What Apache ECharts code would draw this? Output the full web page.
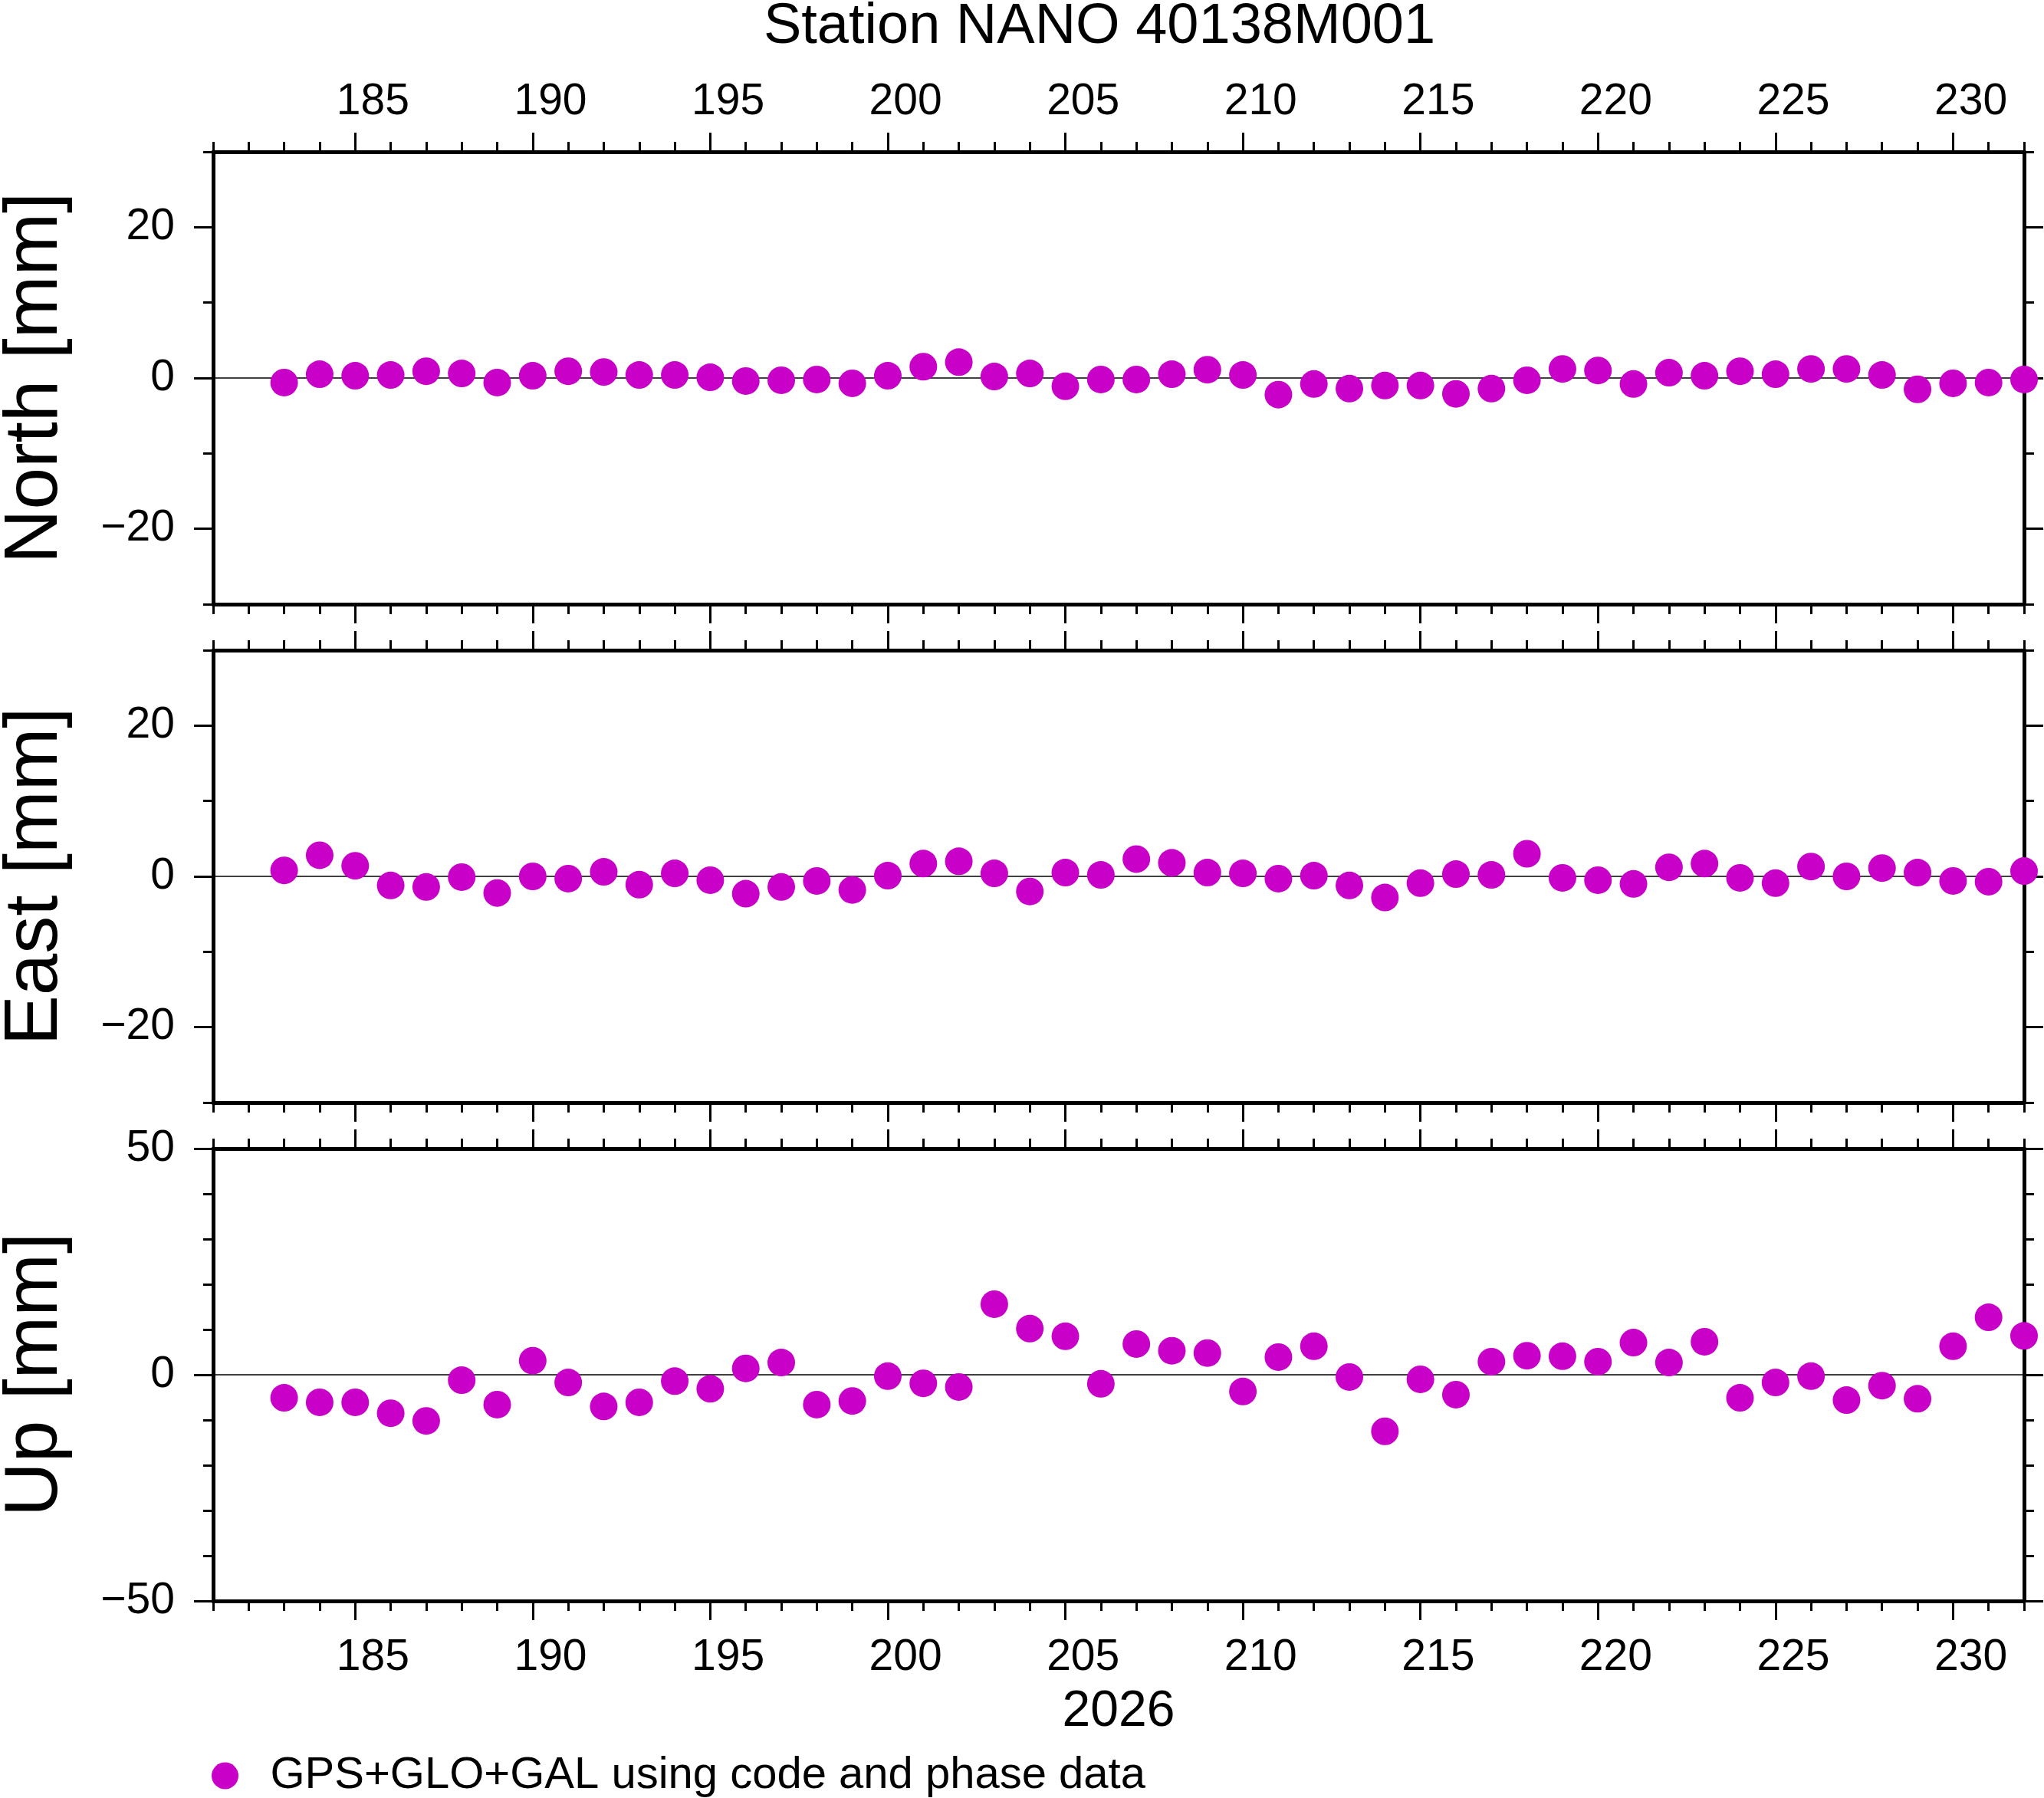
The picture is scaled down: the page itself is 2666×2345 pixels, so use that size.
<!DOCTYPE html>
<html style="height: 100%">
<head>
<meta charset="UTF-8">
<title>Station NANO 40138M001</title>
<script src="https://cdn.jsdelivr.net/npm/echarts@6/dist/echarts.min.js"></script>
</head>
<body style="height: 100%; margin: 0; background: #fff">
<div id="container" style="width: 2666px; height: 2345px"></div>
<script type="text/javascript">
// day of year 2026
var days = [183, 184, 185, 186, 187, 188, 189, 190, 191, 192, 193, 194, 195, 196, 197, 198, 199, 200,
            201, 202, 203, 204, 205, 206, 207, 208, 209, 210, 211, 212, 213, 214, 215, 216, 217, 218,
            219, 220, 221, 222, 223, 224, 225, 226, 227, 228, 229, 230, 231, 232];
// residuals in mm
var north = [-0.6, 0.5, 0.3, 0.4, 0.9, 0.6, -0.6, 0.3, 0.9, 0.8, 0.4, 0.4, 0.1, -0.4, -0.3, -0.2, -0.7, 0.3,
             1.5, 2.1, 0.2, 0.6, -1.1, -0.2, -0.2, 0.5, 1.1, 0.4, -2.2, -0.8, -1.4, -1.0, -1.0, -2.1, -1.4, -0.3,
             1.2, 1.0, -0.8, 0.7, 0.3, 0.9, 0.5, 1.2, 1.2, 0.4, -1.5, -0.7, -0.6, -0.2];
var east = [0.8, 2.8, 1.4, -1.2, -1.4, -0.1, -2.2, 0.0, -0.3, 0.6, -1.1, 0.4, -0.5, -2.3, -1.4, -0.6, -1.8, 0.1,
            1.7, 2.0, 0.4, -2.0, 0.5, 0.2, 2.3, 1.8, 0.5, 0.4, -0.3, 0.1, -1.2, -2.8, -0.9, 0.3, 0.2, 3.0,
            -0.2, -0.5, -1.0, 1.2, 1.7, -0.2, -0.9, 1.3, 0.0, 1.1, 0.5, -0.6, -0.7, 0.7];
var up = [-5.1, -6.1, -6.1, -8.5, -10.2, -1.2, -6.6, 3.1, -1.7, -7.0, -6.1, -1.4, -3.1, 1.4, 2.7, -6.6, -5.8, -0.3,
          -1.9, -2.7, 15.6, 10.2, 8.5, -2.0, 6.8, 5.3, 4.8, -3.7, 3.9, 6.3, -0.5, -12.5, -1.0, -4.4, 2.9, 4.2,
          4.1, 2.9, 7.1, 2.7, 7.3, -5.1, -1.7, -0.3, -5.6, -2.4, -5.3, 6.3, 12.7, 8.6];

var dayLabels = [185, 190, 195, 200, 205, 210, 215, 220, 225, 230];
var panelNames = ['North [mm]', 'East [mm]', 'Up [mm]'];
var panelData = [north, east, up];
var panelMax = [30, 30, 50];
var panelLabels = [[-20, 0, 20], [-20, 0, 20], [-50, 0, 50]];
var seriesName = 'GPS+GLO+GAL using code and phase data';
var yearName = '2026';
var titleText = 'Station NANO 40138M001';

var FONT = 'Liberation Sans';
var tops = [198, 848, 1498];

function minus(v) { return String(v).replace('-', '\u2212'); }

var grids = [], xAxes = [], yAxes = [], series = [];

for (var g = 0; g < 3; g++) {
	grids.push({ left: 278, right: 26, top: tops[g], height: 590, containLabel: false, outerBoundsMode: 'none' });

	['bottom', 'top'].forEach(function (pos) {
		var showLab = (pos === 'top' && g === 0) || (pos === 'bottom' && g === 2);
		// every day, short ticks + frame line
		xAxes.push({
			gridIndex: g, type: 'value', position: pos, min: 181, max: 232, interval: 1,
			axisLine: { show: true, onZero: false, lineStyle: { color: '#000', width: 5 } },
			axisTick: { show: true, length: 13, lineStyle: { color: '#000', width: 3 } },
			axisLabel: { show: false }, splitLine: { show: false }
		});
		// every 5 days, long ticks, labels centred on the day
		xAxes.push({
			gridIndex: g, type: 'value', position: pos, min: 181, max: 232,
			axisLine: { show: false, onZero: false },
			axisTick: { show: true, length: 25, customValues: dayLabels, lineStyle: { color: '#000', width: 3 } },
			axisLabel: {
				show: showLab, customValues: dayLabels.map(function (d) { return d + 0.5; }),
				formatter: function (v) { return String(Math.floor(v)); },
				margin: pos === 'top' ? 36 : 46, fontSize: 57, fontFamily: FONT, color: '#000'
			},
			splitLine: { show: false },
			name: (pos === 'bottom' && g === 2) ? yearName : '',
			nameLocation: 'middle', nameGap: 112,
			nameTextStyle: { fontSize: 66, fontFamily: FONT, color: '#000' }
		});
	});

	['left', 'right'].forEach(function (pos) {
		var m = panelMax[g];
		yAxes.push({
			gridIndex: g, type: 'value', position: pos, min: -m, max: m, interval: 10,
			axisLine: { show: true, onZero: false, lineStyle: { color: '#000', width: 5 } },
			axisTick: { show: true, length: 13, lineStyle: { color: '#000', width: 3 } },
			axisLabel: { show: false }, splitLine: { show: false }
		});
		yAxes.push({
			gridIndex: g, type: 'value', position: pos, min: -m, max: m,
			axisLine: { show: false, onZero: false },
			axisTick: { show: true, length: 25, customValues: panelLabels[g], lineStyle: { color: '#000', width: 3 } },
			axisLabel: {
				show: pos === 'left', customValues: panelLabels[g], formatter: minus,
				margin: 50, fontSize: 57, fontFamily: FONT, color: '#000'
			},
			splitLine: { show: false },
			name: pos === 'left' ? panelNames[g] : '',
			nameLocation: 'middle', nameRotate: 90, nameGap: 182,
			nameTextStyle: { fontSize: 98, fontFamily: FONT, color: '#000' }
		});
	});

	var vals = panelData[g];
	series.push({
		name: seriesName, type: 'scatter',
		xAxisIndex: g * 4, yAxisIndex: g * 4,
		symbol: 'circle', symbolSize: 36, clip: false, z: 3,
		itemStyle: { color: '#c800c8', opacity: 1 },
		data: days.map(function (d, i) { return [d, vals[i]]; }),
		markLine: {
			silent: true, symbol: 'none', z: 1, animation: false,
			label: { show: false },
			lineStyle: { color: '#000', width: 1.5, type: 'solid' },
			data: [{ yAxis: 0 }]
		}
	});
}

var option = {
	animation: false,
	backgroundColor: '#fff',
	title: {
		text: titleText, left: 1434, top: 36, padding: 0,
		textAlign: 'center', textVerticalAlign: 'middle',
		textStyle: { fontSize: 74, fontWeight: 'normal', fontFamily: FONT, color: '#000' }
	},
	legend: {
		data: [seriesName], left: 276, top: 2287, padding: 0,
		icon: 'circle', itemWidth: 108, itemHeight: 35,
		textStyle: { fontSize: 58, fontFamily: FONT, color: '#000' }
	},
	grid: grids,
	xAxis: xAxes,
	yAxis: yAxes,
	series: series
};

var myChart = echarts.init(document.getElementById('container'));
myChart.setOption(option);
</script>
</body>
</html>
